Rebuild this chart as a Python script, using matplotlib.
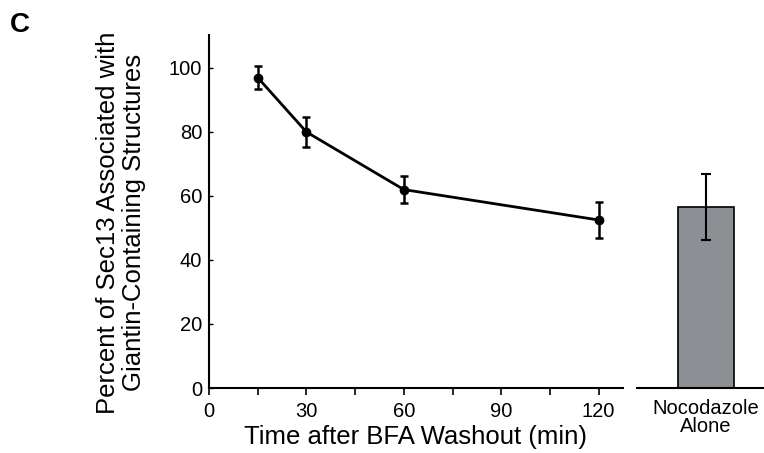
import matplotlib.pyplot as plt

# Sec13 association after BFA washout
times = [15, 30, 60, 120]
percent = [97, 80, 62, 52.5]
err = [3.6, 4.7, 4.2, 5.5]

# Nocodazole alone control
noc_value = 56.5
noc_err = 10.4

plt.rcParams['font.family'] = ['Liberation Sans', 'DejaVu Sans']

fig = plt.figure(figsize=(7.64, 4.53), dpi=100)
ax = fig.add_axes([209/764, 1 - 388/453, 414/764, 353/453])
ax2 = fig.add_axes([637/764, 1 - 388/453, 127/764, 353/453])

ax.errorbar(times, percent, yerr=err, color='black', lw=2, marker='o', ms=6,
            capsize=3, elinewidth=1.8, capthick=1.8)
ax.set_xlim(0, 127.5)
ax.set_ylim(0, 110.3)
ax.set_xticks([0, 30, 60, 90, 120])
ax.set_xticks([15, 45, 75, 105], minor=True)
ax.set_yticks([0, 20, 40, 60, 80, 100])
ax.tick_params(axis='x', which='both', direction='out', length=5, width=1.2,
               labelsize=14.5, pad=5)
ax.tick_params(axis='y', direction='in', length=3, width=1, labelsize=14.5, pad=5)
ax.spines['top'].set_visible(False)
ax.spines['right'].set_visible(False)
ax.spines['left'].set_linewidth(1.5)
ax.spines['bottom'].set_linewidth(1.5)
ax.set_xlabel("Time after BFA Washout (min)", fontsize=18.5, labelpad=3)

fig.text(0.158, 0.509, "Percent of Sec13 Associated with\nGiantin-Containing Structures",
         rotation=90, ha='center', va='center', fontsize=18.5, linespacing=1.1)
fig.text(0.013, 0.945, "C", fontsize=20, fontweight='bold', ha='left', va='center')

ax2.bar([0.543], [noc_value], width=0.44, color='#8c8f93', edgecolor='black', lw=1.2)
ax2.errorbar([0.543], [noc_value], yerr=[noc_err], color='black', capsize=3.5,
             elinewidth=1.5, capthick=1.5, fmt='none')
ax2.set_xlim(0, 1)
ax2.set_ylim(0, 110.3)
ax2.set_xticks([0.543])
ax2.set_xticklabels(["Nocodazole\nAlone"], linespacing=0.95)
ax2.tick_params(axis='x', length=0, labelsize=14.5, pad=8)
ax2.set_yticks([])
for s in ['top', 'right', 'left']:
    ax2.spines[s].set_visible(False)
ax2.spines['bottom'].set_linewidth(1.5)

fig.savefig("out.png", dpi=100)
